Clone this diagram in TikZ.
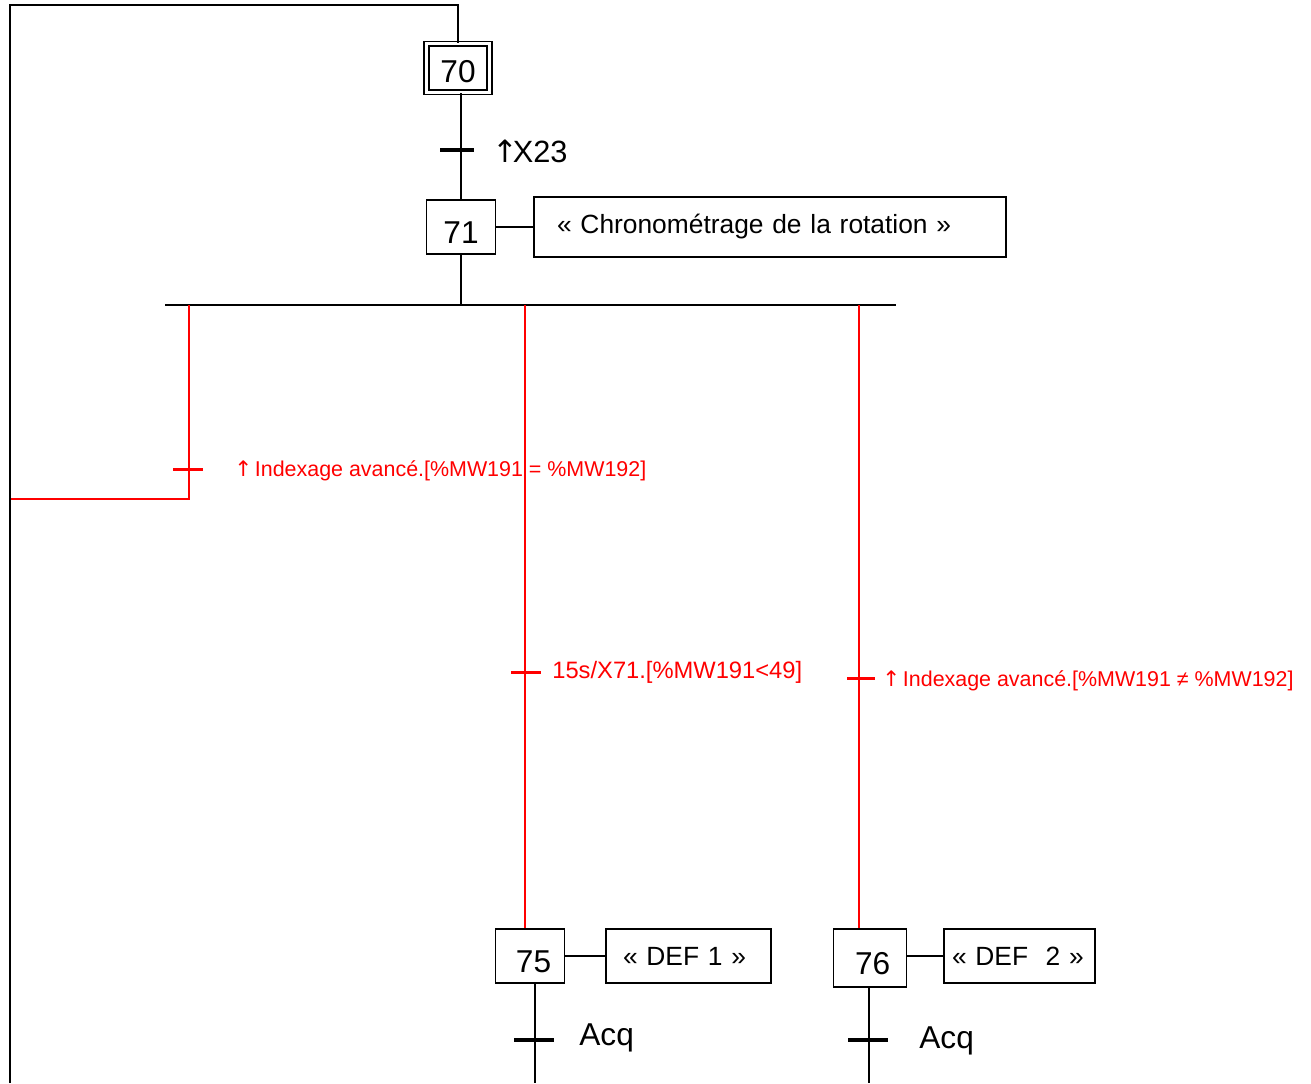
\documentclass[tikz,border=0pt]{standalone}
\usepackage{fontspec}
\setmainfont{Liberation Sans}
\newfontfamily\arrowfont{DejaVu Sans}
\newcommand\uparr{{\arrowfont\char"2191}}
\usetikzlibrary{positioning}

\tikzset{
every node/.style={inner sep=0pt},
link/.style={draw,line width=0.9pt},
redlink/.style={draw=red,line width=1.1pt},
stepbox/.style={draw,line width=0.9pt,minimum width=1.38cm,minimum height=1.08cm,text height=19pt,text depth=0pt,font=\fontsize{18}{20}\selectfont},
initbox/.style={stepbox,double,double distance=1.6pt,line width=1pt,minimum width=1.26cm,minimum height=0.97cm,text height=16pt},
actbox/.style={draw,line width=0.9pt,align=left,minimum height=1.08cm,font=\fontsize{15}{18}\selectfont},
tbar/.style={fill=black,minimum width=0.68cm,minimum height=0.08cm},
tbarred/.style={fill=red,minimum width=0.6cm,minimum height=0.06cm},
cond/.style={anchor=west,font=\fontsize{17.5}{20}\selectfont},
condred/.style={anchor=west,text=red,font=\fontsize{12.2}{14}\selectfont}
}

\begin{document}
\begin{tikzpicture}[x=0.02cm,y=-0.02cm]
\useasboundingbox (0,0) rectangle (1311,1083);

% initial step and first step
\node[initbox] (s70) at (458,68) {70};
\node[tbar] (t1) at (457,150) {};
\node[cond] (c1) at (492,151) {\uparr\kern-3pt X23};
\node[stepbox] (s71) at (461,227) {71};
\node[actbox,inner xsep=0.46cm,text width=8.52cm,minimum height=1.2cm] (a71) at (770,227) {« Chronométrage de la rotation »};

\draw[link] (s70.south -| s71) -- (s71);
\draw[link] (s71) -- (a71);

% divergence line
\coordinate (dl) at (165,305);
\coordinate (dr) at (896,305);
\draw[link] (dl) -- (dr);
\draw[link] (s71) -- (s71 |- dl);

% the three branches
\coordinate (b1) at (189,305);
\coordinate (b2) at (525,305);
\coordinate (b3) at (859,305);
\coordinate (r1) at (10,499);

\node[tbarred] (t2) at (188,469) {};
\node[condred] (c2) at (234,471) {\uparr\kern1.5pt Indexage avancé.[\%MW191 = \%MW192]};
\node[tbarred] (t3) at (526,672) {};
\node[condred,font=\fontsize{13.5}{15}\selectfont] (c3) at (552,672) {15s/X71.[\%MW191<49]};
\node[tbarred,minimum width=0.56cm] (t4) at (861,678) {};
\node[condred] (c4) at (882,681) {\uparr\kern1.5pt Indexage avancé.[\%MW191 ≠ \%MW192]};

% steps at the end of the branches
\node[stepbox] (s75) at (530,956) {\hspace{4pt}75};
\node[actbox,inner xsep=0.34cm,text width=2.62cm] (a75) at (688.5,956) {« DEF 1 »};
\node[stepbox,minimum width=1.46cm,minimum height=1.16cm] (s76) at (870,958) {\hspace{3pt}76};
\node[actbox,inner xsep=0.16cm,text width=2.70cm] (a76) at (1019.5,956) {« DEF~~2 »};

\draw[redlink] (b1) |- (r1);
\draw[redlink] (b2) -- (b2 |- s75.north);
\draw[redlink] (b3) -- (b3 |- s76.north);
\draw[link] (s75) -- (a75);
\draw[link] (s76.east |- a76) -- (a76);

% transitions below
\node[tbar,minimum width=0.8cm] (t5) at (534,1040) {};
\node[cond,font=\fontsize{18}{20}\selectfont] (c5) at (579,1038) {Acq};
\node[tbar,minimum width=0.8cm] (t6) at (868,1040) {};
\node[cond,font=\fontsize{18}{20}\selectfont] (c6) at (919,1041) {Acq};

\coordinate (e75) at (535,1083);
\coordinate (e76) at (869,1083);
\draw[link] (e75 |- s75.south) -- (e75);
\draw[link] (e76 |- s76.south) -- (e76);

% loop back to the initial step
\coordinate (top) at (10,5);
\coordinate (bot) at (10,1083);
\draw[link] (bot) -- (top) -| (s70);
\end{tikzpicture}
\end{document}
